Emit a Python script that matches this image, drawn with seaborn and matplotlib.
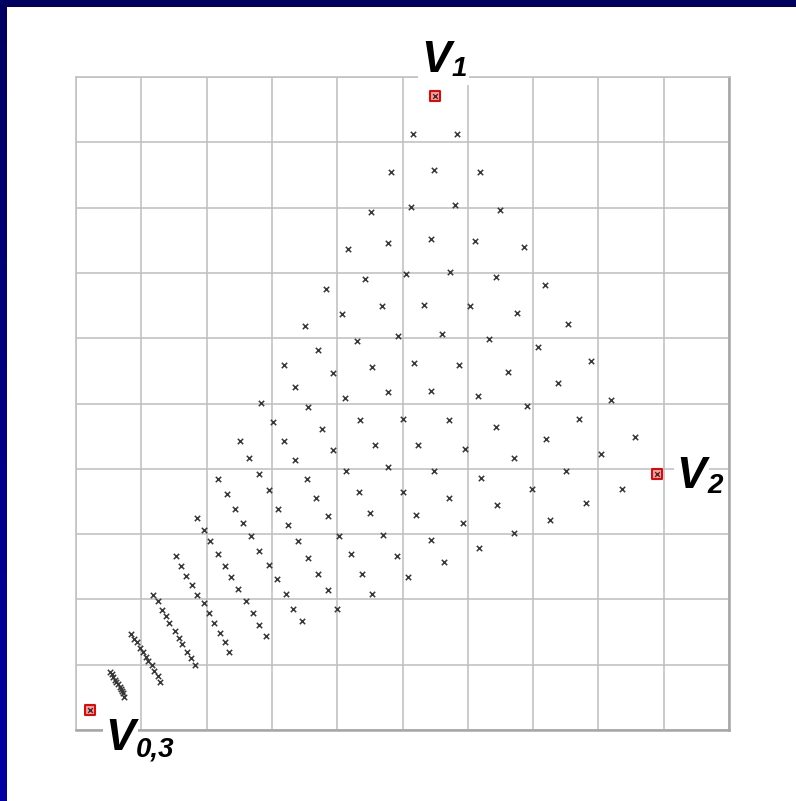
import numpy as np
import pandas as pd
import matplotlib
matplotlib.use("Agg")
import matplotlib.pyplot as plt
import seaborn as sns

# Sample points of the patch: one list per parameter curve, running from the
# V0-V1 edge towards the lower right (11 samples per curve).
curve_x = [
    [0.52, 0.55, 0.57, 0.60, 0.62, 0.65, 0.67, 0.69, 0.70, 0.72, 0.74],
    [0.84, 0.89, 0.93, 0.98, 1.03, 1.07, 1.11, 1.16, 1.20, 1.25, 1.29],
    [1.18, 1.26, 1.31, 1.38, 1.43, 1.51, 1.58, 1.63, 1.70, 1.76, 1.83],
    [1.53, 1.61, 1.68, 1.78, 1.85, 1.96, 2.03, 2.11, 2.20, 2.28, 2.35],
    [1.85, 1.96, 2.05, 2.18, 2.28, 2.38, 2.48, 2.60, 2.71, 2.80, 2.91],
    [2.18, 2.31, 2.43, 2.55, 2.68, 2.80, 2.96, 3.08, 3.21, 3.33, 3.46],
    [2.51, 2.65, 2.80, 2.96, 3.10, 3.25, 3.40, 3.55, 3.70, 3.86, 4.00],
    [2.83, 3.01, 3.18, 3.35, 3.53, 3.68, 3.86, 4.03, 4.21, 4.38, 4.53],
    [3.18, 3.35, 3.55, 3.76, 3.93, 4.13, 4.33, 4.50, 4.70, 4.91, 5.08],
    [3.51, 3.71, 3.93, 4.12, 4.35, 4.58, 4.78, 5.00, 5.20, 5.43, 5.63],
    [3.83, 4.08, 4.30, 4.53, 4.78, 5.00, 5.23, 5.48, 5.71, 5.93, 6.17],
    [4.16, 4.43, 4.68, 4.93, 5.18, 5.43, 5.71, 5.96, 6.20, 6.45, 6.70],
    [4.51, 4.78, 5.05, 5.33, 5.61, 5.87, 6.16, 6.43, 6.70, 6.98, 7.26],
    [4.83, 5.13, 5.43, 5.73, 6.03, 6.33, 6.61, 6.91, 7.20, 7.50, 7.81],
    [5.16, 5.48, 5.81, 6.11, 6.43, 6.76, 7.08, 7.38, 7.71, 8.04, 8.36],
    [5.50, 5.83, 6.18, 6.50, 6.86, 7.18, 7.53, 7.88, 8.20, 8.56, 8.90],
]
curve_y = [
    [0.89, 0.85, 0.81, 0.77, 0.74, 0.70, 0.66, 0.63, 0.60, 0.56, 0.50],
    [1.47, 1.40, 1.34, 1.26, 1.19, 1.12, 1.06, 0.99, 0.91, 0.83, 0.74],
    [2.07, 1.97, 1.84, 1.74, 1.64, 1.52, 1.41, 1.32, 1.19, 1.10, 0.99],
    [2.67, 2.51, 2.36, 2.22, 2.06, 1.94, 1.79, 1.64, 1.49, 1.34, 1.19],
    [3.25, 3.06, 2.89, 2.69, 2.51, 2.34, 2.16, 1.97, 1.79, 1.61, 1.44],
    [3.84, 3.61, 3.39, 3.17, 2.97, 2.74, 2.52, 2.32, 2.09, 1.86, 1.67],
    [4.42, 4.17, 3.92, 3.67, 3.39, 3.14, 2.89, 2.64, 2.39, 2.14, 1.86],
    [5.01, 4.72, 4.42, 4.14, 3.84, 3.56, 3.27, 2.97, 2.69, 2.39, 2.09],
    [5.59, 5.26, 4.94, 4.61, 4.29, 3.96, 3.64, 3.32, 2.99, 2.67, 2.34],
    [6.19, 5.82, 5.47, 5.09, 4.74, 4.36, 4.02, 3.64, 3.29, 2.91, 2.57],
    [6.76, 6.37, 5.96, 5.56, 5.17, 4.77, 4.36, 3.96, 3.56, 3.17, 2.79],
    [7.37, 6.91, 6.49, 6.04, 5.62, 5.19, 4.74, 4.31, 3.86, 3.44, 3.02],
    [7.94, 7.46, 6.99, 6.51, 6.07, 5.59, 5.12, 4.64, 4.17, 3.69, 3.22],
    [8.54, 8.01, 7.52, 7.01, 6.49, 5.99, 5.49, 4.96, 4.46, 3.96, 3.47],
    [9.12, 8.57, 8.04, 7.49, 6.94, 6.39, 5.87, 5.31, 4.76, 4.22, 3.69],
    [9.71, 9.12, 8.54, 7.96, 7.39, 6.82, 6.22, 5.65, 5.06, 4.49, 3.92],
]

# Control vertices (V0 and V3 coincide)
vertex_subs = ["0,3", "1", "2"]
vertex_x = [0.21, 5.50, 8.90]
vertex_y = [0.31, 9.71, 3.92]

rows = []
for i, (xs, ys) in enumerate(zip(curve_x, curve_y)):
    for x, y in zip(xs, ys):
        rows.append({"curve": i, "x": x, "y": y})
pts = pd.DataFrame(rows)
verts = pd.DataFrame({"name": vertex_subs, "x": vertex_x, "y": vertex_y})

sns.set_style("white")
W, H = 796, 801
fig = plt.figure(figsize=(W / 100, H / 100), dpi=100)
fig.patch.set_facecolor("white")

# Blue slide frame: top bar and a left bar shading towards brighter blue
top = fig.add_axes([0, 1 - 7 / H, 1, 7 / H])
top.set_facecolor("#000060")
top.set_xticks([]); top.set_yticks([])
for s in top.spines.values():
    s.set_visible(False)
left = fig.add_axes([0, 0, 7 / W, 1 - 7 / H])
grad = np.linspace(0, 1, 256).reshape(-1, 1)
cmap = matplotlib.colors.LinearSegmentedColormap.from_list("bar", ["#000062", "#0000a4"])
left.imshow(grad, aspect="auto", cmap=cmap, extent=[0, 1, 0, 1], origin="upper")
left.axis("off")

ax = fig.add_axes([76 / W, (H - 730) / H, 653 / W, 653 / H])
ax.set_xlim(0, 10)
ax.set_ylim(0, 10)
ax.set_xticks(np.arange(0, 11))
ax.set_yticks(np.arange(0, 11))
ax.tick_params(length=0, labelbottom=False, labelleft=False)
ax.grid(True, color="#bdbdbd", linewidth=1.1, zorder=0)
ax.set_axisbelow(True)
for side in ["left", "top"]:
    ax.spines[side].set_color("#c2c2c2")
    ax.spines[side].set_linewidth(1.2)
for side in ["right", "bottom"]:
    ax.spines[side].set_color("#a6a6a6")
    ax.spines[side].set_linewidth(1.8)

sns.scatterplot(data=pts, x="x", y="y", marker="x", color="#383838",
                s=15, linewidth=1.1, legend=False, ax=ax, zorder=3)

# Control vertices: red boxes with a cross inside
ax.scatter(verts["x"], verts["y"], marker="s", s=42, facecolor="#ff9c9c",
           edgecolor="#e60000", linewidth=1.4, zorder=4)
sns.scatterplot(data=verts, x="x", y="y", marker="x", color="#333333",
                s=12, linewidth=1.0, legend=False, ax=ax, zorder=5)
ax.set_xlabel("")
ax.set_ylabel("")

lab_font = dict(family="Liberation Sans", weight="bold", style="italic",
                color="black")
box = dict(facecolor="white", edgecolor="none", pad=2)
# (V position, subscript position) in axis units
label_pos = {
    "1": ((5.28, 10.08), (5.745, 10.01)),
    "2": ((9.20, 3.71), (9.665, 3.63)),
    "0,3": ((0.45, -0.31), (0.915, -0.40)),
}
for sub in vertex_subs:
    (vx, vy), (sx, sy) = label_pos[sub]
    ax.text(vx, vy, "V", fontsize=32, va="baseline", ha="left",
            bbox=box, clip_on=False, zorder=6, **lab_font)
    ax.text(sx, sy, sub, fontsize=20, va="baseline", ha="left",
            bbox=box, clip_on=False, zorder=7, **lab_font)

fig.savefig("out.png", dpi=100, facecolor="white")
